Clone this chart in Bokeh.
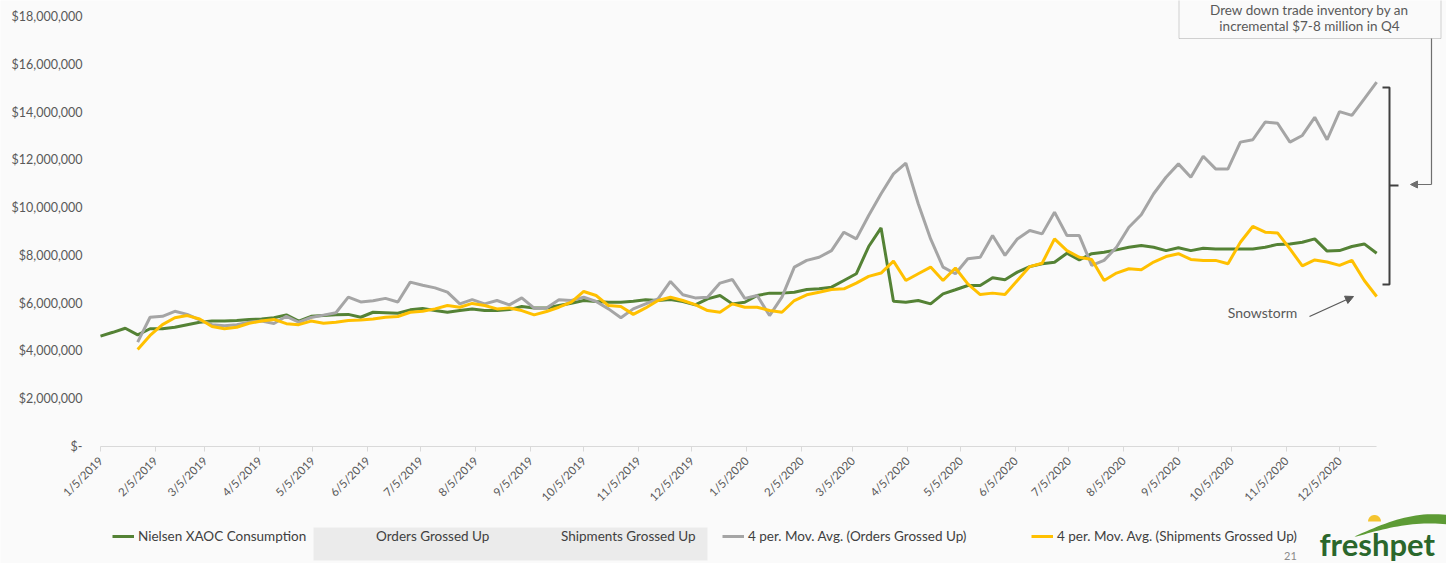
import math
from datetime import datetime, timedelta

import numpy as np
from bokeh.embed import file_html
from bokeh.models import (Arrow, BoxAnnotation, ColumnDataSource, CustomJSTickFormatter,
                          DatetimeAxis, FixedTicker, Label, Legend, LegendItem, LinearAxis,
                          NormalHead, PolyAnnotation, Range1d)
from bokeh.plotting import figure
from bokeh.resources import INLINE

# ---------------------------------------------------------------- data ($ millions, weekly)
START = datetime(2019, 1, 5)
N_WEEKS = 104

nielsen_xaoc = [
    4.62, 4.78, 4.95, 4.67, 4.93, 4.93, 4.99, 5.10, 5.20, 5.25,
    5.25, 5.27, 5.32, 5.34, 5.39, 5.51, 5.25, 5.45, 5.48, 5.51,
    5.53, 5.41, 5.62, 5.60, 5.58, 5.72, 5.78, 5.69, 5.62, 5.69,
    5.76, 5.69, 5.69, 5.73, 5.86, 5.80, 5.80, 5.90, 6.00, 6.11,
    6.07, 6.04, 6.04, 6.08, 6.14, 6.11, 6.15, 6.07, 5.93, 6.18,
    6.32, 5.97, 6.04, 6.32, 6.42, 6.42, 6.46, 6.57, 6.60, 6.67,
    6.95, 7.23, 8.37, 9.15, 6.08, 6.04, 6.11, 5.97, 6.39, 6.56,
    6.74, 6.74, 7.06, 6.98, 7.30, 7.53, 7.65, 7.71, 8.09, 7.81,
    8.07, 8.13, 8.23, 8.34, 8.41, 8.34, 8.20, 8.32, 8.20, 8.30,
    8.27, 8.27, 8.27, 8.27, 8.34, 8.46, 8.48, 8.55, 8.69, 8.18,
    8.20, 8.37, 8.48, 8.09,
]

# 4-period moving averages start with the 4th week
orders_ma4 = [None, None, None,
    4.37, 5.41, 5.45, 5.66, 5.53, 5.30, 5.10, 5.05, 5.10, 5.20,
    5.25, 5.15, 5.45, 5.20, 5.40, 5.50, 5.60, 6.25, 6.05, 6.10,
    6.20, 6.05, 6.88, 6.75, 6.64, 6.46, 5.97, 6.15, 5.97, 6.11,
    5.93, 6.22, 5.79, 5.80, 6.14, 6.11, 6.25, 6.07, 5.76, 5.39,
    5.76, 5.97, 6.18, 6.91, 6.35, 6.22, 6.25, 6.84, 6.99, 6.20,
    6.32, 5.48, 6.25, 7.51, 7.79, 7.92, 8.20, 8.97, 8.69, 9.67,
    10.58, 11.41, 11.86, 10.16, 8.69, 7.51, 7.23, 7.86, 7.92, 8.83,
    8.00, 8.69, 9.04, 8.90, 9.81, 8.83, 8.83, 7.58, 7.79, 8.34,
    9.18, 9.70, 10.58, 11.27, 11.83, 11.27, 12.15, 11.62, 11.62, 12.74,
    12.84, 13.58, 13.53, 12.74, 13.02, 13.78, 12.84, 14.02, 13.86, 14.55, 15.25,
]

shipments_ma4 = [None, None, None,
    4.06, 4.65, 5.10, 5.39, 5.48, 5.34, 5.02, 4.93, 4.99, 5.16,
    5.25, 5.32, 5.14, 5.10, 5.25, 5.16, 5.20, 5.27, 5.30, 5.34,
    5.41, 5.44, 5.62, 5.66, 5.76, 5.90, 5.83, 5.99, 5.90, 5.76,
    5.80, 5.69, 5.51, 5.65, 5.83, 6.04, 6.49, 6.32, 5.90, 5.86,
    5.53, 5.80, 6.11, 6.25, 6.11, 5.94, 5.69, 5.62, 5.97, 5.83,
    5.83, 5.69, 5.62, 6.11, 6.35, 6.46, 6.57, 6.60, 6.84, 7.12,
    7.26, 7.76, 6.95, 7.23, 7.51, 6.95, 7.47, 6.81, 6.36, 6.42,
    6.36, 6.95, 7.53, 7.67, 8.69, 8.20, 7.92, 7.83, 6.95, 7.26,
    7.44, 7.40, 7.72, 7.95, 8.07, 7.83, 7.79, 7.79, 7.65, 8.55,
    9.21, 8.97, 8.94, 8.27, 7.56, 7.81, 7.72, 7.58, 7.79, 6.95, 6.28,
]

y_ticks_musd = [0, 2, 4, 6, 8, 10, 12, 14, 16, 18]
month_ticks = [datetime(2019 + m // 12, m % 12 + 1, 5) for m in range(24)]

legend_labels = [
    "Nielsen XAOC Consumption",
    "Orders Grossed Up",
    "Shipments Grossed Up",
    "4 per. Mov. Avg. (Orders Grossed Up)",
    "4 per. Mov. Avg. (Shipments Grossed Up)",
]

# ---------------------------------------------------------------- helpers
EPOCH = datetime(1970, 1, 1)
DAY_MS = 86400000.0


def to_ms(d):
    return (d - EPOCH).total_seconds() * 1000.0


def musd(vals):
    return np.array([np.nan if v is None else v * 1e6 for v in vals], dtype=float)


dates = [START + timedelta(weeks=i) for i in range(N_WEEKS)]
last_date = dates[-1]

# canvas layout: the plotting frame covers the whole canvas, the axes sit at
# fixed data locations inside it
W, H = 1446, 563
ORIGIN_X, ORIGIN_Y = 100, 446       # canvas pixel of (START, $0)
PX_PER_DAY = 1.77
PX_PER_MUSD = 23.89


def at(xp, yp):
    """Data coordinates for a canvas pixel (origin top-left), used for callouts."""
    return (to_ms(START) + (xp - ORIGIN_X) / PX_PER_DAY * DAY_MS,
            (ORIGIN_Y - yp) / PX_PER_MUSD * 1e6)


FONT = "Lato"
GRAY_TXT = "#595959"
BG = "#fafafa"

src = ColumnDataSource(dict(
    date=dates,
    nielsen=musd(nielsen_xaoc),
    orders=musd(orders_ma4),
    shipments=musd(shipments_ma4),
))

p = figure(
    width=W, height=H,
    x_range=Range1d(at(0, 0)[0], at(W, 0)[0]),
    y_range=Range1d(at(0, H)[1], at(0, 0)[1]),
    x_axis_location=None, y_axis_location=None,
    output_backend="svg", toolbar_location=None,
    min_border=0,
    background_fill_color=BG, border_fill_color=BG,
    outline_line_color=None,
)
p.grid.visible = False

# ---------------------------------------------------------------- axes
xa = DatetimeAxis(fixed_location=0)
xa.ticker = FixedTicker(ticks=[to_ms(d) for d in month_ticks])
xa.formatter = CustomJSTickFormatter(code="""
const d = new Date(tick);
return (d.getUTCMonth() + 1) + "/" + d.getUTCDate() + "/" + d.getUTCFullYear();
""")
xa.bounds = (to_ms(START), to_ms(last_date))
xa.axis_line_color = "#d9d9d9"
xa.major_tick_line_color = "#d9d9d9"
xa.major_tick_out = 5
xa.major_tick_in = 0
xa.minor_tick_line_color = None
xa.major_label_orientation = math.pi / 4
xa.major_label_standoff = 7
xa.major_label_text_font = FONT
xa.major_label_text_font_size = "11.5px"
xa.major_label_text_color = GRAY_TXT
p.add_layout(xa, "below")

ya = LinearAxis(fixed_location=to_ms(START))
ya.ticker = FixedTicker(ticks=[v * 1e6 for v in y_ticks_musd])
ya.formatter = CustomJSTickFormatter(code="""
return tick === 0 ? "$-" : "$" + Math.round(tick).toLocaleString("en-US");
""")
ya.bounds = (0, y_ticks_musd[-1] * 1e6)
ya.axis_line_color = None
ya.major_tick_line_color = None
ya.minor_tick_line_color = None
ya.major_tick_out = 0
ya.major_label_standoff = 18
ya.major_label_text_font = FONT
ya.major_label_text_font_size = "12.5px"
ya.major_label_text_color = GRAY_TXT
p.add_layout(ya, "left")

# ---------------------------------------------------------------- series
r_nielsen = p.line("date", "nielsen", source=src, line_color="#548235", line_width=3)
r_orders_raw = p.line(x=[], y=[], line_alpha=0)
r_ship_raw = p.line(x=[], y=[], line_alpha=0)
r_orders = p.line("date", "orders", source=src, line_color="#a5a5a5", line_width=3)
r_ship = p.line("date", "shipments", source=src, line_color="#ffc000", line_width=3)

# ---------------------------------------------------------------- legend row
x0, yb = at(313, 560)
x1, yt = at(707, 527)
p.add_layout(BoxAnnotation(left=x0, right=x1, bottom=yb, top=yt,
                           fill_color="#ebebeb", fill_alpha=1, line_color=None,
                           level="underlay"))

legend_glyph_px = [112, 350, 535, 722, 1031]
for lbl, rend, gx in zip(legend_labels,
                         [r_nielsen, r_orders_raw, r_ship_raw, r_orders, r_ship],
                         legend_glyph_px):
    lg = Legend(items=[LegendItem(label=lbl, renderers=[rend])],
                location=(gx, H - 544),
                orientation="horizontal", padding=0, margin=0, spacing=0,
                glyph_width=22, glyph_height=14, label_height=14, label_standoff=4,
                label_text_font=FONT, label_text_font_size="13.5px",
                label_text_color="#404040",
                background_fill_alpha=0, border_line_color=None)
    p.add_layout(lg)

# ---------------------------------------------------------------- callouts
ANN = "#404040"
CONN = "#6f6f6f"

# bracket spanning the Q4 gap
bx, b_top = at(1389, 87)
bxl, b_bot = at(1382, 284)
bxr, b_mid = at(1398, 185)
p.line([bxl, bx, bx, bxl], [b_top, b_top, b_bot, b_bot], line_color=ANN, line_width=2)
p.line([bx, bxr], [b_mid, b_mid], line_color=ANN, line_width=2)

# note box and its connector
bl, bb = at(1178.5, 38)
br, btop = at(1440.5, -20)
p.add_layout(BoxAnnotation(left=bl, right=br, bottom=bb, top=btop,
                           fill_alpha=0, line_color=CONN, line_width=1))
for txt, yp in [("Drew down trade inventory by an", 9),
                ("incremental $7-8 million in Q4", 25)]:
    cx, cy = at(1309, yp)
    p.add_layout(Label(x=cx, y=cy, text=txt, text_align="center", text_baseline="middle",
                       text_font=FONT, text_font_size="13.5px", text_color=GRAY_TXT))

vx, vy_top = at(1431, 38)
tipx, vy_bot = at(1410, 184)
p.add_layout(Arrow(x_start=vx, y_start=vy_top, x_end=vx, y_end=vy_bot, end=None,
                   line_color=CONN, line_width=1.2))
p.add_layout(Arrow(x_start=vx, y_start=vy_bot, x_end=tipx, y_end=vy_bot,
                   end=NormalHead(size=7, fill_color=CONN, line_color=CONN),
                   line_color=CONN, line_width=1.2))

# snowstorm note
sx, sy = at(1262, 312)
p.add_layout(Label(x=sx, y=sy, text="Snowstorm", text_align="center", text_baseline="middle",
                   text_font=FONT, text_font_size="14px", text_color=GRAY_TXT))
ax0, ay0 = at(1309, 316)
ax1, ay1 = at(1353, 296)
p.add_layout(Arrow(x_start=ax0, y_start=ay0, x_end=ax1, y_end=ay1,
                   end=NormalHead(size=8, fill_color="#595959", line_color="#595959"),
                   line_color="#595959", line_width=1.3))

# ---------------------------------------------------------------- brand mark
t = np.linspace(0, 1, 25)
outer = [at(1354 + 92 * s, 536 - 19 * math.sin(s * math.pi * 0.62) - 4 * s) for s in t]
inner = [at(1446 - 90 * s, 523 + 13 * (1 - math.sin((1 - s) * math.pi * 0.62)))
         for s in t]
poly = outer + inner
p.add_layout(PolyAnnotation(xs=[q[0] for q in poly], ys=[q[1] for q in poly],
                            fill_color="#5d9b35", fill_alpha=1, line_color=None))
th = np.linspace(0, math.pi, 20)
sun = [at(1374 + 6.5 * math.cos(a), 521 - 6.5 * math.sin(a)) for a in th]
p.add_layout(PolyAnnotation(xs=[q[0] for q in sun], ys=[q[1] for q in sun],
                            fill_color="#f4c430", fill_alpha=1, line_color=None))
lx, ly = at(1319, 562)
p.add_layout(Label(x=lx, y=ly, text="freshpet", text_align="left",
                   text_baseline="bottom", text_font=FONT, text_font_size="31px",
                   text_font_style="bold", text_color="#2b672c"))
nx, ny = at(1290, 555)
p.add_layout(Label(x=nx, y=ny, text="21", text_align="center", text_baseline="middle",
                   text_font=FONT, text_font_size="11px", text_color="#8a8a8a"))

open("out.html", "w").write(file_html(p, INLINE))
